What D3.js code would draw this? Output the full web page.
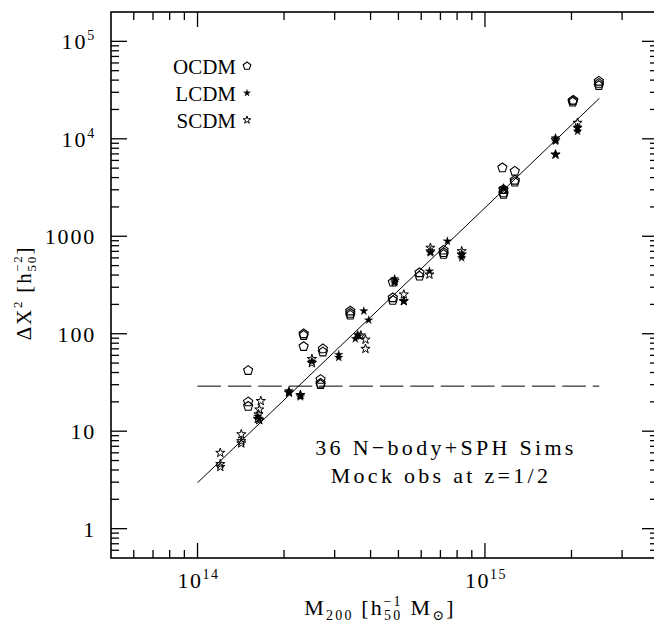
<!DOCTYPE html>
<html>
<head>
<meta charset="utf-8">
<script src="https://cdn.jsdelivr.net/npm/d3@7"></script>
<style>
  body { margin: 0; background: #fff; }
  svg { display: block; }
  text { font-family: "Liberation Serif", "DejaVu Serif", serif; fill: #000; }
</style>
</head>
<body>
<script>
const svgWidth = 654
const svgHeight = 630

// [M200, delta X^2]
const ocdm = [
  [1.50e14, 42], [1.50e14, 20], [1.50e14, 18],
  [2.34e14, 100], [2.34e14, 96], [2.34e14, 74],
  [2.73e14, 70], [2.73e14, 65],
  [2.68e14, 34], [2.68e14, 31], [2.68e14, 30],
  [3.40e14, 171], [3.40e14, 162], [3.40e14, 155],
  [4.78e14, 338], [4.78e14, 234], [4.78e14, 220],
  [5.92e14, 422], [5.92e14, 390],
  [7.18e14, 720], [7.18e14, 680], [7.18e14, 651],
  [1.15e15, 5040], [1.27e15, 4650], [1.27e15, 3760], [1.27e15, 3590],
  [1.16e15, 3020], [1.16e15, 2790], [1.16e15, 2690],
  [2.02e15, 24500], [2.02e15, 23800], [2.03e15, 24900],
  [2.49e15, 39000], [2.49e15, 37000], [2.49e15, 35200]
]

const lcdm = [
  [2.08e14, 24.8], [2.08e14, 26], [2.28e14, 23.5], [2.28e14, 22.5],
  [1.64e14, 13.4], [1.62e14, 14.2],
  [2.50e14, 52],
  [3.10e14, 61], [3.10e14, 57],
  [3.79e14, 171], [3.94e14, 138],
  [3.54e14, 89], [3.60e14, 98], [3.64e14, 95],
  [4.85e14, 366], [4.85e14, 333],
  [5.22e14, 216],
  [6.41e14, 438],
  [6.46e14, 678],
  [7.40e14, 891],
  [8.30e14, 650], [8.30e14, 602],
  [1.16e15, 3140],
  [1.76e15, 10230], [1.76e15, 9450], [1.76e15, 6900],
  [2.10e15, 12970], [2.10e15, 11970]
]

const scdm = [
  [1.20e14, 6.0], [1.20e14, 4.6], [1.20e14, 4.3],
  [1.42e14, 9.3], [1.42e14, 7.9], [1.42e14, 7.5],
  [1.66e14, 20.4], [1.64e14, 16.7], [1.63e14, 14.9], [1.62e14, 13.4], [1.64e14, 13.0],
  [2.08e14, 25], [2.28e14, 23.5],
  [2.50e14, 55], [2.50e14, 50],
  [3.84e14, 87], [3.84e14, 70], [3.70e14, 96],
  [5.22e14, 253], [5.22e14, 216],
  [4.85e14, 350],
  [6.41e14, 405],
  [6.46e14, 762], [6.46e14, 700],
  [8.30e14, 703], [8.30e14, 650],
  [1.16e15, 3000],
  [1.76e15, 9800], [1.76e15, 6900],
  [2.10e15, 14600], [2.10e15, 12970]
]

const fitLine = [[1e14, 2.96], [2.5e15, 2.6e4]]
const thresholdLine = [[1e14, 29], [2.5e15, 29]]

const legendLabels = ["OCDM", "LCDM", "SCDM"]
const xTickLabels = [[1e14, "14"], [1e15, "15"]]
const yTickLabels = [[1e5, "10", "5"], [1e4, "10", "4"], [1000, "1000"], [100, "100"], [10, "10"], [1, "1"]]

const margin = { top: 12, left: 111, right: -4, bottom: 72 }

const svg = d3.select("body").append("svg")
    .attr("width", svgWidth)
    .attr("height", svgHeight)

const x = d3.scaleLog()
    .domain([5e13, 4e15])
    .range([margin.left, svgWidth - margin.right])

const y = d3.scaleLog()
    .domain([0.5, 2e5])
    .range([svgHeight - margin.bottom, margin.top])

const x0 = x.range()[0], x1 = x.range()[1]
const y0 = y.range()[0], y1 = y.range()[1]

// log ticks, major on decades
function logTicks(scale) {
    const [a, b] = scale.domain()
    const out = []
    for (let e = Math.floor(Math.log10(a)); e <= Math.ceil(Math.log10(b)); e++) {
        for (let m = 1; m < 10; m++) {
            const v = m * Math.pow(10, e)
            if (v > a * 1.0001 && v < b * 0.9999) out.push({ v, major: m === 1 })
        }
    }
    return out
}

const ticksG = svg.append("g").attr("stroke", "#000").attr("stroke-width", 1.3)

logTicks(x).forEach(t => {
    const len = t.major ? 15 : 8
    ticksG.append("line").attr("x1", x(t.v)).attr("x2", x(t.v)).attr("y1", y0).attr("y2", y0 - len)
    ticksG.append("line").attr("x1", x(t.v)).attr("x2", x(t.v)).attr("y1", y1).attr("y2", y1 + len)
})

logTicks(y).forEach(t => {
    const len = t.major ? 16 : 8
    ticksG.append("line").attr("y1", y(t.v)).attr("y2", y(t.v)).attr("x1", x0).attr("x2", x0 + len)
    ticksG.append("line").attr("y1", y(t.v)).attr("y2", y(t.v)).attr("x1", x1).attr("x2", x1 - len)
})

svg.append("rect")
    .attr("x", x0).attr("y", y1)
    .attr("width", x1 - x0).attr("height", y0 - y1)
    .attr("fill", "none").attr("stroke", "#000").attr("stroke-width", 1.6)

// tick labels
xTickLabels.forEach(([v, ex]) => {
    const t = svg.append("text")
        .attr("x", x(v) - 20).attr("y", y0 + 30)
        .attr("font-size", 22).attr("letter-spacing", 1.5)
    t.append("tspan").text("10")
    t.append("tspan").attr("font-size", 14).attr("dy", -9).text(ex)
})

yTickLabels.forEach(([v, base, ex]) => {
    const t = svg.append("text")
        .attr("x", 96).attr("y", y(v) + 8)
        .attr("text-anchor", "end")
        .attr("font-size", 22).attr("letter-spacing", 1.8)
    t.append("tspan").text(base)
    if (ex) t.append("tspan").attr("font-size", 14).attr("dy", -9).text(ex)
})

// lines
const line = d3.line().x(d => x(d[0])).y(d => y(d[1]))

svg.append("path")
    .attr("d", line(fitLine))
    .attr("fill", "none").attr("stroke", "#000").attr("stroke-width", 1)

svg.append("path")
    .attr("d", line(thresholdLine))
    .attr("fill", "none").attr("stroke", "#000").attr("stroke-width", 1)
    .attr("stroke-dasharray", "23.5,6.9")

// symbols
const symbolPentagon = {
    draw(ctx, size) {
        const r = Math.sqrt(size)
        for (let i = 0; i < 5; i++) {
            const a = -Math.PI / 2 + i * 2 * Math.PI / 5
            const px = r * Math.cos(a), py = r * Math.sin(a)
            if (i === 0) ctx.moveTo(px, py); else ctx.lineTo(px, py)
        }
        ctx.closePath()
    }
}

const styles = {
    OCDM: { type: symbolPentagon, size: 23, fill: "none", stroke: 1.1 },
    LCDM: { type: d3.symbolStar, size: 24, fill: "#000", stroke: 0.2 },
    SCDM: { type: d3.symbolStar, size: 26, fill: "none", stroke: 1 }
}

function drawSeries(data, key) {
    const s = styles[key]
    svg.append("g").selectAll("path")
        .data(data)
        .join("path")
        .attr("transform", d => `translate(${x(d[0])},${y(d[1])})`)
        .attr("d", d3.symbol().type(s.type).size(s.size)())
        .attr("fill", s.fill)
        .attr("stroke", "#000")
        .attr("stroke-width", s.stroke)
}

drawSeries(ocdm, "OCDM")
drawSeries(scdm, "SCDM")
drawSeries(lcdm, "LCDM")

// legend
legendLabels.forEach((name, i) => {
    const yy = 74 + i * 27
    svg.append("text")
        .attr("x", 236).attr("y", yy)
        .attr("text-anchor", "end")
        .attr("font-size", 21)
        .text(name)
    const s = styles[name]
    svg.append("path")
        .attr("transform", `translate(247,${yy - 8})`)
        .attr("d", d3.symbol().type(s.type).size(s.size * 0.7)())
        .attr("fill", s.fill)
        .attr("stroke", "#000")
        .attr("stroke-width", s.stroke)
})

// annotation
const note = svg.append("g").attr("font-size", 22).attr("letter-spacing", 3.3)
note.append("text").attr("x", 446).attr("y", 455).attr("text-anchor", "middle").text("36 N\u2212body+SPH Sims")
note.append("text").attr("x", 441).attr("y", 483).attr("text-anchor", "middle").text("Mock obs at z=1/2")

// axis titles
const xt = svg.append("text")
    .attr("x", 380).attr("y", 615)
    .attr("text-anchor", "middle")
    .attr("font-size", 22).attr("letter-spacing", 2.2)
xt.append("tspan").text("M")
xt.append("tspan").attr("font-size", 14).attr("dy", 5).text("200")
xt.append("tspan").attr("dy", -5).text(" [h")
xt.append("tspan").attr("font-size", 14).attr("dy", 5).text("50")
xt.append("tspan").attr("font-size", 14).attr("dx", -19).attr("dy", -14).text("\u22121")
xt.append("tspan").attr("dy", 9).text(" M")
xt.append("tspan").attr("font-size", 14).attr("dy", 5).text("\u2299")
xt.append("tspan").attr("dy", -5).text("]")

const yt = svg.append("text")
    .attr("transform", "translate(31,293) rotate(-90)")
    .attr("text-anchor", "middle")
    .attr("font-size", 21).attr("letter-spacing", 1.8)
yt.append("tspan").text("\u0394X")
yt.append("tspan").attr("font-size", 13).attr("dy", -9).text("2")
yt.append("tspan").attr("dy", 9).text(" [h")
yt.append("tspan").attr("font-size", 13).attr("dy", 5).text("50")
yt.append("tspan").attr("font-size", 13).attr("dx", -17).attr("dy", -14).text("\u22122")
yt.append("tspan").attr("dy", 9).text("]")
</script>
</body>
</html>
